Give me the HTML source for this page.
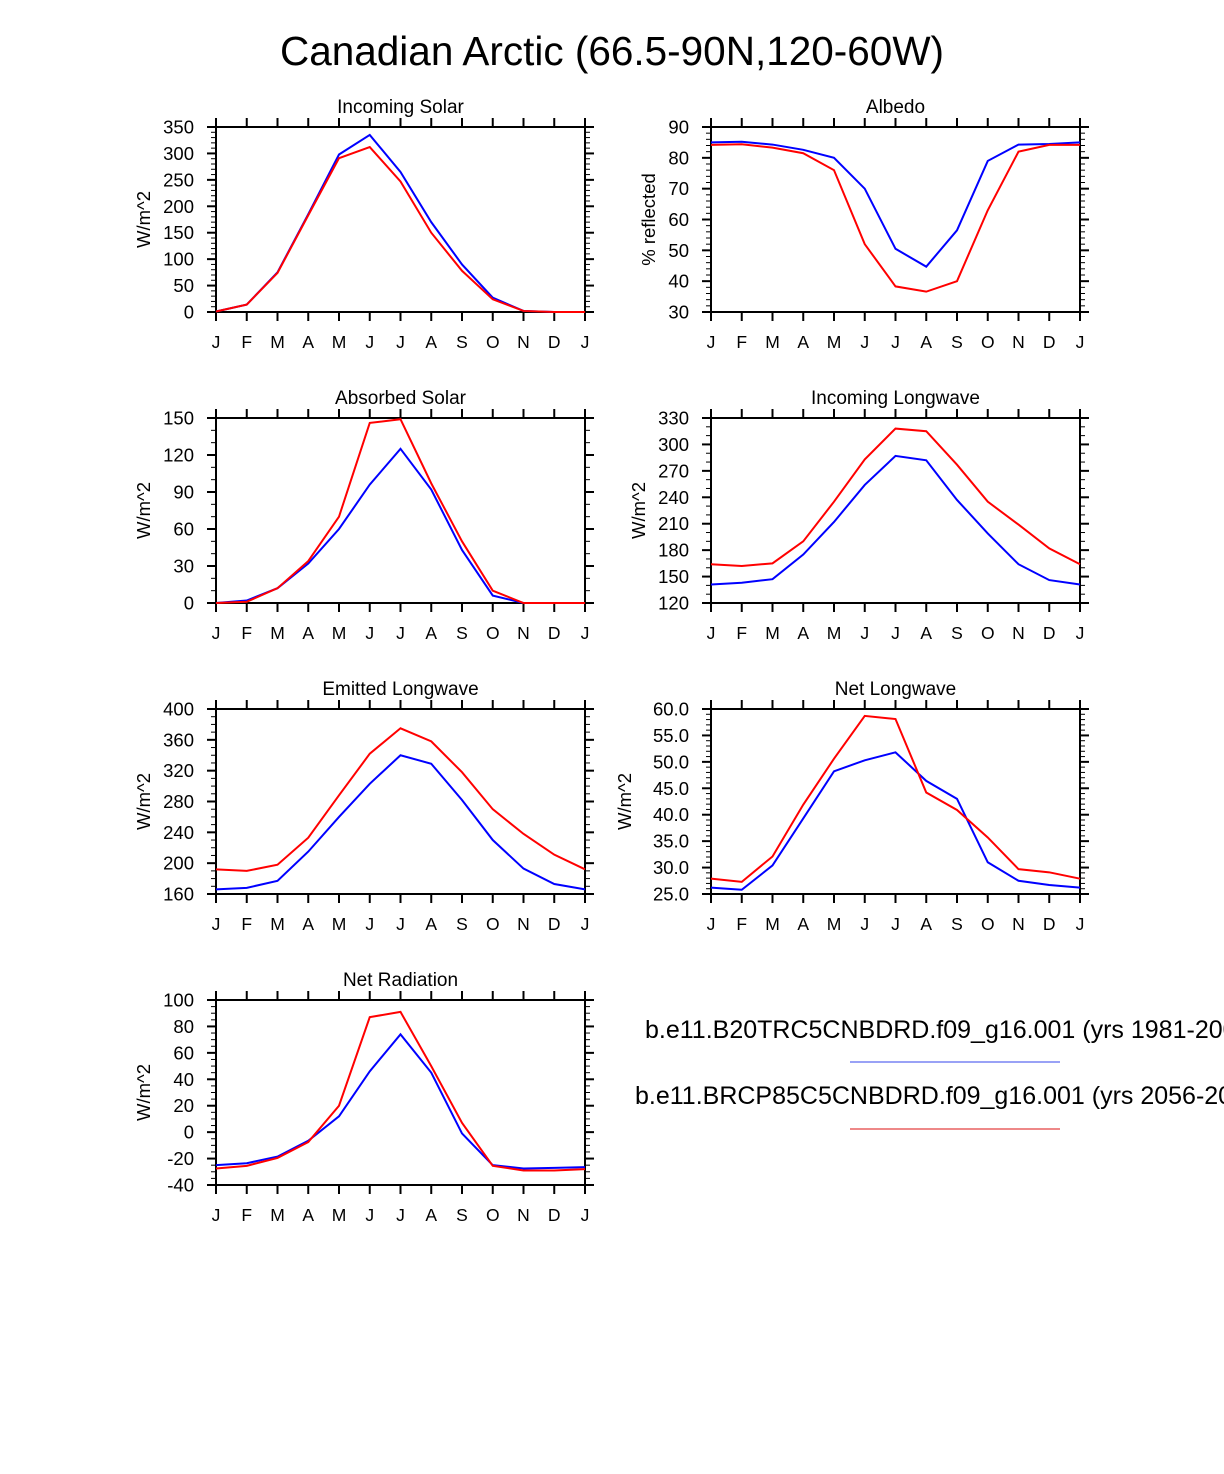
<!DOCTYPE html>
<html><head><meta charset="utf-8"><style>
html,body{margin:0;padding:0;background:#fff;}
svg{display:block;font-family:"Liberation Sans",Arial,sans-serif;}
</style></head><body>
<svg id="fig" width="1224" height="1474" viewBox="0 0 1224 1474" xmlns="http://www.w3.org/2000/svg">
<text x="612" y="65" font-size="40.5" text-anchor="middle">Canadian Arctic (66.5-90N,120-60W)</text>
<g>
<text x="645" y="1038" font-size="25">b.e11.B20TRC5CNBDRD.f09_g16.001 (yrs 1981-2005)</text>
<line x1="850" y1="1062" x2="1060" y2="1062" stroke="#3344ee" stroke-width="1"/>
<text x="635" y="1104" font-size="25">b.e11.BRCP85C5CNBDRD.f09_g16.001 (yrs 2056-2080)</text>
<line x1="850" y1="1129" x2="1060" y2="1129" stroke="#dd1111" stroke-width="1"/>
</g>
</svg>
<script>
const months = ["J","F","M","A","M","J","J","A","S","O","N","D","J"];
const solarBlue = [1,14,75,185,298,335,265,170,90,27,2,0,0];
const solarRed = [1,14,74,183,291,312,247,150,78,24,2,0,0];
const albedoBlue = [85,85.2,84.3,82.6,80,70,50.5,44.7,56.5,79,84.3,84.5,85];
const albedoRed = [84.2,84.4,83.3,81.5,76,52,38.3,36.6,40,63,82,84.2,84.2];
const absBlue = [0,2,12,32,60,96,125,92,43,6,0,0,0];
const absRed = [0,1,12,34,70,146,149,97,50,10,0,0,0];
const inLwBlue = [141,143,147,175,212,254,287,282,237,199,164,146,141];
const inLwRed = [164,162,165,190,235,283,318,315,277,235,209,182,164];
const emLwBlue = [166,168,177,215,260,303,340,329,282,230,193,173,166];
const emLwRed = [192,190,198,233,288,342,375,358,318,270,238,211,192];
const netLwBlue = [26.2,25.8,30.4,39.3,48.2,50.3,51.8,46.4,43,31,27.5,26.7,26.2];
const netLwRed = [27.9,27.3,32.1,41.9,50.6,58.7,58.1,44.2,40.9,35.7,29.7,29.1,27.9];
const netRadBlue = [-25,-23.5,-18.5,-6.5,12,46,74,45,-1,-25,-27.5,-27,-26.5];
const netRadRed = [-27.5,-25.5,-19.5,-7.5,20,87,91,50,7,-25.5,-29,-29,-28];

const panels = [
 {name:"incoming-solar",title:"Incoming Solar",ylab:"W/m^2",x0:216,y0:127,min:0,max:350,step:50,minor:10,dec:0,blue:solarBlue,red:solarRed},
 {name:"albedo",title:"Albedo",ylab:"% reflected",x0:711,y0:127,min:30,max:90,step:10,minor:2,dec:0,blue:albedoBlue,red:albedoRed},
 {name:"absorbed-solar",title:"Absorbed Solar",ylab:"W/m^2",x0:216,y0:418,min:0,max:150,step:30,minor:10,dec:0,blue:absBlue,red:absRed},
 {name:"incoming-longwave",title:"Incoming Longwave",ylab:"W/m^2",x0:711,y0:418,min:120,max:330,step:30,minor:10,dec:0,blue:inLwBlue,red:inLwRed},
 {name:"emitted-longwave",title:"Emitted Longwave",ylab:"W/m^2",x0:216,y0:709,min:160,max:400,step:40,minor:10,dec:0,blue:emLwBlue,red:emLwRed},
 {name:"net-longwave",title:"Net Longwave",ylab:"W/m^2",x0:711,y0:709,min:25,max:60,step:5,minor:1,dec:1,blue:netLwBlue,red:netLwRed},
 {name:"net-radiation",title:"Net Radiation",ylab:"W/m^2",x0:216,y0:1000,min:-40,max:100,step:20,minor:5,dec:0,blue:netRadBlue,red:netRadRed}
];
const W=369,H=185,NS="http://www.w3.org/2000/svg";
const svg=document.getElementById("fig");
function mk(tag,attrs,parent){const e=document.createElementNS(NS,tag);for(const k in attrs)e.setAttribute(k,attrs[k]);parent.appendChild(e);return e;}
panels.forEach(p=>{
 const g=mk("g",{},svg);
 
 
 const xs=i=>p.x0+i*W/12;
 const ys=v=>p.y0+H-(v-p.min)/(p.max-p.min)*H;
 for(let v=p.min;v<=p.max+1e-9;v+=p.minor){const y=ys(v);
  mk("line",{x1:p.x0-5,y1:y,x2:p.x0,y2:y,stroke:"#000","stroke-width":1},g);
  mk("line",{x1:p.x0+W,y1:y,x2:p.x0+W+5,y2:y,stroke:"#000","stroke-width":1},g);}
 for(let v=p.min;v<=p.max+1e-9;v+=p.step){const y=ys(v);
  mk("line",{x1:p.x0-9,y1:y,x2:p.x0,y2:y,stroke:"#000","stroke-width":2},g);
  mk("line",{x1:p.x0+W,y1:y,x2:p.x0+W+9,y2:y,stroke:"#000","stroke-width":2},g);
  const t=mk("text",{x:p.x0-22,y:y+6.5,"font-size":18.5,"text-anchor":"end"},g);
  
  
  t.textContent=v.toFixed(p.dec);}
 months.forEach((m,i)=>{const x=xs(i);
  mk("line",{x1:x,y1:p.y0+H,x2:x,y2:p.y0+H+9,stroke:"#000","stroke-width":2},g);
  mk("line",{x1:x,y1:p.y0-9,x2:x,y2:p.y0,stroke:"#000","stroke-width":2},g);
  const t=mk("text",{x:x,y:p.y0+H+36,"font-size":17.5,"text-anchor":"middle"},g);
  
  
  t.textContent=m;});
 const fr=mk("rect",{x:p.x0,y:p.y0,width:W,height:H,fill:"none",stroke:"#000","stroke-width":2},g);
 
 
 [["blue","#0000ff"],["red","#ff0000"]].forEach(([k,c])=>{
  const pl=mk("polyline",{points:p[k].map((v,i)=>xs(i)+","+ys(v)).join(" "),fill:"none",stroke:c,"stroke-width":2},g);
  
  });
 const tt=mk("text",{x:p.x0+W/2,y:p.y0-14,"font-size":19,"text-anchor":"middle"},g);
 
 
 tt.textContent=p.title;
 let off=66;
 if(p.dec===1) off=80;
 if(p.name==="albedo") off=56;
 const yl=mk("text",{x:0,y:0,"font-size":18.5,"text-anchor":"middle",transform:`translate(${p.x0-off},${p.y0+H/2}) rotate(-90)`},g);
 
 
 yl.textContent=p.ylab;
});
</script>
</body></html>
